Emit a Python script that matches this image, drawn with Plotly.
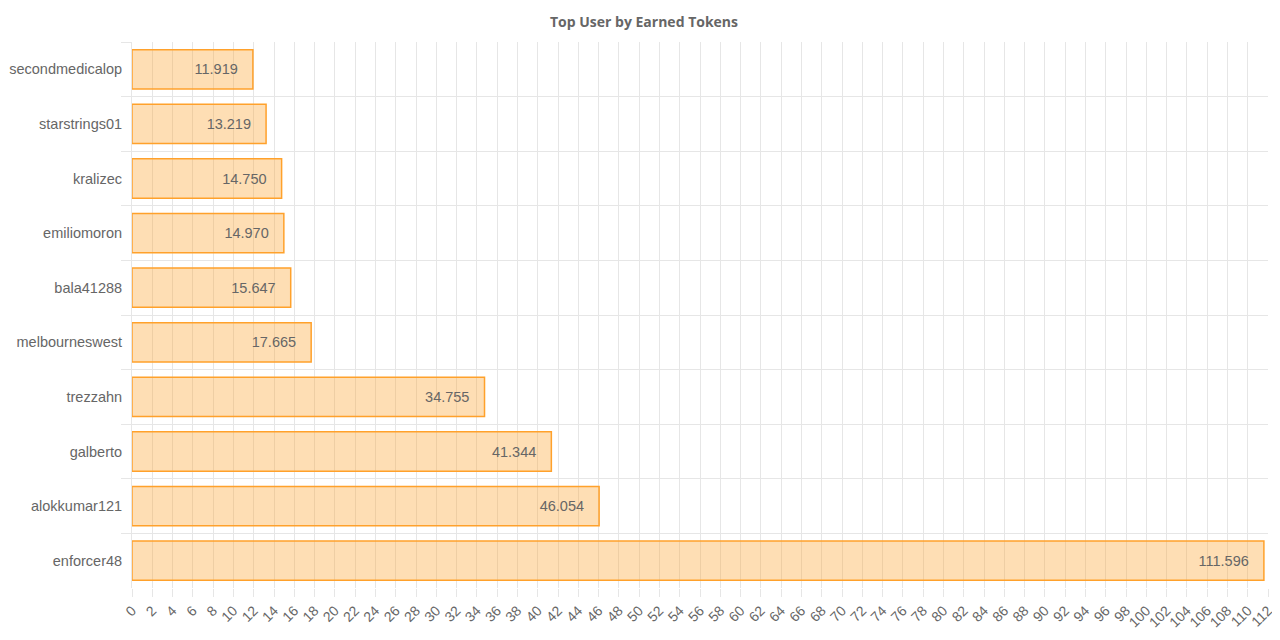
import plotly.graph_objects as go

# data, top to bottom
users = [
    'secondmedicalop', 'starstrings01', 'kralizec', 'emiliomoron', 'bala41288',
    'melbourneswest', 'trezzahn', 'galberto', 'alokkumar121', 'enforcer48',
]
tokens = [11.919, 13.219, 14.750, 14.970, 15.647, 17.665, 34.755, 41.344, 46.054, 111.596]

labels = [f'{v:.3f}\u00a0\u00a0\u00a0' for v in tokens]

GRID = '#e6e6e6'

fig = go.Figure()
fig.add_trace(go.Bar(
    x=tokens,
    y=users,
    orientation='h',
    text=labels,
    textposition='inside',
    insidetextanchor='end',
    textangle=0,
    insidetextfont=dict(color='#666666', size=14.5, family='Arial'),
    marker=dict(color='rgba(253,160,40,0.35)',
                line=dict(color='#FFA12B', width=1.5)),
    hoverinfo='x+y',
))

fig.update_layout(
    width=1272, height=632,
    paper_bgcolor='white', plot_bgcolor='white',
    margin=dict(l=124, r=12, t=34, b=52),
    bargap=0.28,
    showlegend=False,
    title=dict(text='<b>Top User by Earned Tokens</b>', x=0.5, xanchor='center',
               y=0.978, yanchor='middle',
               font=dict(family='Open Sans', size=14, color='#666666')),
    font=dict(family='Arial', color='#666666', size=14),
)

fig.update_xaxes(
    range=[0, 112], dtick=2, tick0=0,
    tickangle=-45, tickfont=dict(size=14, color='#666666'),
    showgrid=True, gridcolor=GRID, gridwidth=1,
    ticks='outside', ticklen=8, tickcolor=GRID,
    zeroline=False, showline=False,
    automargin=False,
)
fig.update_yaxes(
    categoryorder='array', categoryarray=users, autorange='reversed',
    tickson='boundaries', ticks='outside', ticklen=10, tickcolor=GRID,
    showgrid=True, gridcolor=GRID, gridwidth=1,
    zeroline=False, showline=True, linecolor=GRID,
    ticklabelstandoff=6,
    tickfont=dict(size=14.5, color='#666666'),
    automargin=False,
)

fig.write_html('out.html')
